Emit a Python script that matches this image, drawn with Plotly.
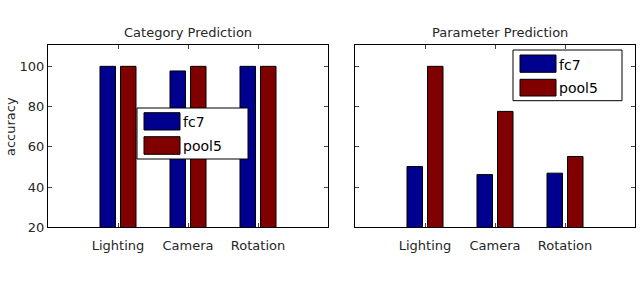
import plotly.graph_objects as go

categories = ["Lighting", "Camera", "Rotation"]
cat_pos = [1, 2, 3]
cat_fc7 = [100, 97.7, 100]
cat_pool5 = [100, 100, 100]
par_fc7 = [50.2, 46.2, 46.9]
par_pool5 = [100, 77.6, 55.2]
y_ticks = [20, 40, 60, 80, 100]

W, H = 640, 288
BLUE = "#00008f"
RED = "#800000"
FONT = "DejaVu Sans"
TXT = "#262626"

def px(x):
    return x / W

def py(y):
    return 1 - y / H

fig = go.Figure()
for xa, ya, f, p in [("x", "y", cat_fc7, cat_pool5), ("x2", "y2", par_fc7, par_pool5)]:
    fig.add_trace(go.Bar(x=cat_pos, y=f, name="fc7", marker=dict(color=BLUE, line=dict(color="black", width=1)),
                         xaxis=xa, yaxis=ya, showlegend=False))
    fig.add_trace(go.Bar(x=cat_pos, y=p, name="pool5", marker=dict(color=RED, line=dict(color="black", width=1)),
                         xaxis=xa, yaxis=ya, showlegend=False))

yd = [py(227.3), py(45)]
common_x = dict(range=[0, 4], tickvals=cat_pos, ticktext=categories, ticks="inside", ticklen=4,
                showline=True, linecolor="black", linewidth=1, mirror="ticks", showgrid=False, zeroline=False,
                tickfont=dict(family=FONT, size=13, color=TXT), fixedrange=True, automargin=False,
                ticklabelstandoff=6)
common_y = dict(range=[20, 110.6], tickvals=y_ticks, ticks="inside", ticklen=4,
                showline=True, linecolor="black", linewidth=1, mirror="ticks", showgrid=False, zeroline=False,
                tickfont=dict(family=FONT, size=13, color=TXT), domain=yd, automargin=False, fixedrange=True)

fig.update_layout(
    width=W, height=H, margin=dict(l=0, r=0, t=0, b=0),
    paper_bgcolor="white", plot_bgcolor="white",
    barmode="group", bargap=0.414, bargroupgap=0.244,
    xaxis=dict(domain=[px(48), px(328)], anchor="y", **common_x),
    yaxis=dict(anchor="x", showticklabels=True, **common_y),
    xaxis2=dict(domain=[px(355), px(635)], anchor="y2", **common_x),
    yaxis2=dict(anchor="x2", showticklabels=False, **common_y),
)

annotations = [
    dict(text="Category Prediction", x=px(188), y=py(32), xref="paper", yref="paper", showarrow=False,
         font=dict(family=FONT, size=13, color=TXT), xanchor="center", yanchor="middle"),
    dict(text="Parameter Prediction", x=px(500), y=py(32), xref="paper", yref="paper", showarrow=False,
         font=dict(family=FONT, size=13, color=TXT), xanchor="center", yanchor="middle"),
    dict(text="accuracy", x=px(10), y=py(127), xref="paper", yref="paper", showarrow=False, textangle=-90,
         font=dict(family=FONT, size=13, color=TXT), xanchor="center", yanchor="middle"),
]
shapes = []

def legend(box, patches, texts):
    x0, y0, x1, y1 = box
    shapes.append(dict(type="rect", xref="paper", yref="paper", x0=px(x0), x1=px(x1), y0=py(y0), y1=py(y1),
                       line=dict(color="black", width=1), fillcolor="white", layer="above"))
    for (a0, b0, a1, b1), col in patches:
        shapes.append(dict(type="rect", xref="paper", yref="paper", x0=px(a0), x1=px(a1), y0=py(b0), y1=py(b1),
                           line=dict(color="black", width=1), fillcolor=col, layer="above"))
    for (tx, ty), t in texts:
        annotations.append(dict(text=t, x=px(tx), y=py(ty), xref="paper", yref="paper", showarrow=False,
                                xanchor="left", yanchor="middle", font=dict(family=FONT, size=14, color="black")))

legend((137, 108, 248, 159),
       [((144, 112.7, 180, 130), BLUE), ((144, 136.7, 180, 154.3), RED)],
       [((181, 121.5), "fc7"), ((181, 145.5), "pool5")])
legend((513, 50, 622, 100.7),
       [((520, 55, 556, 72.3), BLUE), ((520, 79.3, 556, 96), RED)],
       [((557, 64.5), "fc7"), ((557, 88), "pool5")])

fig.update_layout(annotations=annotations, shapes=shapes)
fig.write_html("out.html", config={"displayModeBar": False, "staticPlot": True},
               post_script="document.body.style.margin='0';document.body.style.padding='0';")
